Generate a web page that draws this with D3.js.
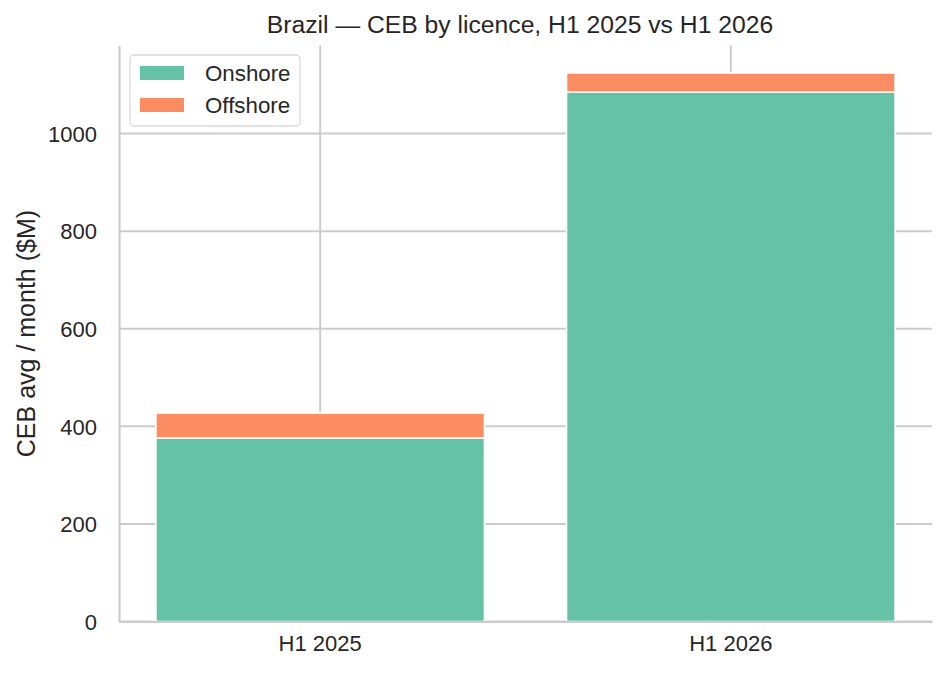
<!DOCTYPE html>
<html>
<head>
<meta charset="utf-8">
<script src="https://cdn.jsdelivr.net/npm/d3@7"></script>
<style>
  body { margin: 0; background: #fff; }
  text { font-family: "Liberation Sans", Arial, sans-serif; fill: #262626; }
</style>
</head>
<body>
<div id="chart"></div>
<script>
const periods = ["H1 2025", "H1 2026"];
const onshore = [376, 1085];
const offshore = [51, 39];
const yTicks = [0, 200, 400, 600, 800, 1000];
const seriesNames = ["Onshore", "Offshore"];
const colors = ["#66c2a5", "#fc8d62"];

const width = 947, height = 677;
const margin = { top: 45.6, right: 15, bottom: 55.5, left: 119 };

const data = periods.map((p, i) => ({ period: p, Onshore: onshore[i], Offshore: offshore[i] }));
const stacked = d3.stack().keys(seriesNames)(data);

const svg = d3.select("#chart")
  .append("svg")
  .attr("width", width)
  .attr("height", height);

const x = d3.scaleBand()
  .domain(periods)
  .range([margin.left, width - margin.right])
  .paddingInner(0.2)
  .paddingOuter(0.09);

const maxTotal = d3.max(data, d => d.Onshore + d.Offshore);
const y = d3.scaleLinear()
  .domain([0, maxTotal * 1.05])
  .range([height - margin.bottom, margin.top]);

// grid
svg.append("g")
  .selectAll("line")
  .data(yTicks)
  .join("line")
  .attr("x1", margin.left)
  .attr("x2", width - margin.right)
  .attr("y1", d => y(d))
  .attr("y2", d => y(d))
  .attr("stroke", "#cccccc")
  .attr("stroke-width", 2);

svg.append("g")
  .selectAll("line")
  .data(periods)
  .join("line")
  .attr("x1", d => x(d) + x.bandwidth() / 2)
  .attr("x2", d => x(d) + x.bandwidth() / 2)
  .attr("y1", margin.top)
  .attr("y2", height - margin.bottom)
  .attr("stroke", "#cccccc")
  .attr("stroke-width", 2);

// bars
svg.append("g")
  .selectAll("g")
  .data(stacked)
  .join("g")
  .attr("fill", (d, i) => colors[i])
  .selectAll("rect")
  .data(d => d)
  .join("rect")
  .attr("x", d => x(d.data.period))
  .attr("width", x.bandwidth())
  .attr("y", d => y(d[1]))
  .attr("height", d => y(d[0]) - y(d[1]))
  .attr("stroke", "#fff")
  .attr("stroke-width", 1.5);

// axes
const yAxis = svg.append("g")
  .attr("transform", `translate(${margin.left},0)`)
  .call(d3.axisLeft(y).tickValues(yTicks).tickSize(0).tickPadding(22).tickFormat(d3.format("d")));
yAxis.select(".domain").attr("stroke", "#cccccc").attr("stroke-width", 2.2);
yAxis.selectAll("text").style("font-size", "22px").attr("dy", "0.35em");

const xAxis = svg.append("g")
  .attr("transform", `translate(0,${height - margin.bottom})`)
  .call(d3.axisBottom(x).tickSize(0).tickPadding(14));
xAxis.select(".domain").attr("stroke", "#cccccc").attr("stroke-width", 2.2);
xAxis.selectAll("text").style("font-size", "22px");

// title & label
svg.append("text")
  .attr("x", 520)
  .attr("y", 33)
  .attr("text-anchor", "middle")
  .style("font-size", "24.7px")
  .text("Brazil — CEB by licence, H1 2025 vs H1 2026");

svg.append("text")
  .attr("transform", `translate(35,${(margin.top + height - margin.bottom) / 2}) rotate(-90)`)
  .attr("text-anchor", "middle")
  .style("font-size", "25px")
  .text("CEB avg / month ($M)");

// legend
const legend = svg.append("g").attr("transform", "translate(130,55)");
legend.append("rect")
  .attr("width", 170)
  .attr("height", 71)
  .attr("rx", 4)
  .attr("fill", "#fff")
  .attr("fill-opacity", 0.8)
  .attr("stroke", "#d9d9d9")
  .attr("stroke-width", 1.3);

const items = legend.selectAll("g.item")
  .data(seriesNames)
  .join("g")
  .attr("class", "item")
  .attr("transform", (d, i) => `translate(10,${11 + i * 32})`);
items.append("rect")
  .attr("width", 44)
  .attr("height", 14)
  .attr("fill", (d, i) => colors[i]);
items.append("text")
  .attr("x", 65)
  .attr("y", 15)
  .style("font-size", "22.3px")
  .text(d => d);
</script>
</body>
</html>
